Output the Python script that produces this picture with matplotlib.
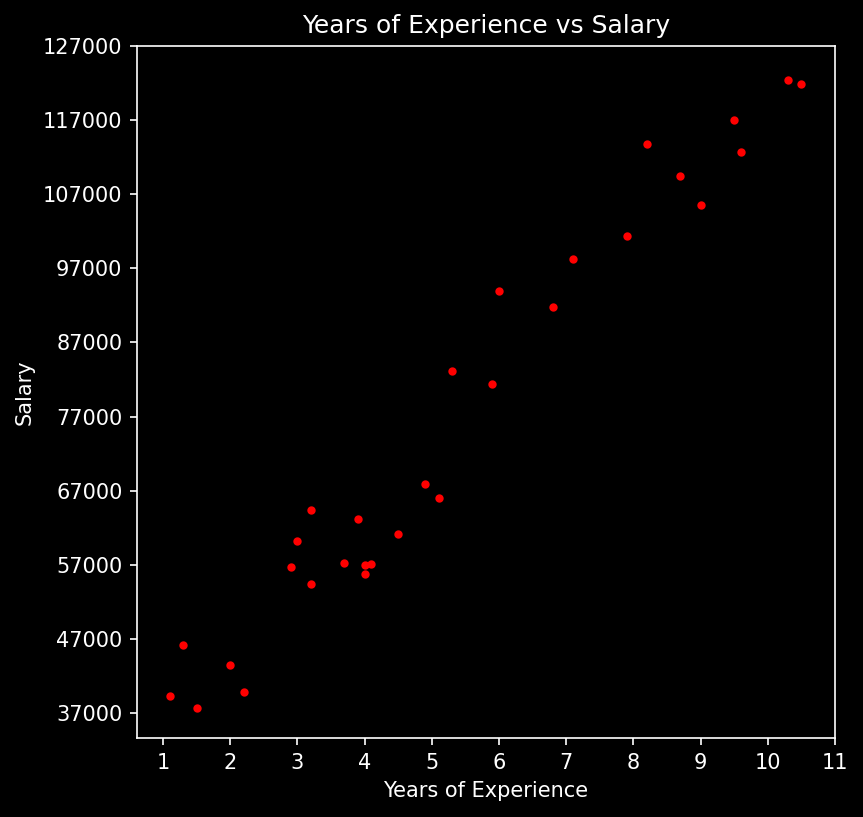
import numpy as np
from matplotlib import pyplot as plt

# data...
years = [1.1, 1.3, 1.5, 2.0, 2.2, 2.9, 3.0, 3.2, 3.2, 3.7,
         3.9, 4.0, 4.0, 4.1, 4.5, 4.9, 5.1, 5.3, 5.9, 6.0,
         6.8, 7.1, 7.9, 8.2, 8.7, 9.0, 9.5, 9.6, 10.3, 10.5]
salary = [39343, 46205, 37731, 43525, 39891, 56642, 60150, 54445, 64445, 57189,
          63218, 55794, 56957, 57081, 61111, 67938, 66029, 83088, 81363, 93940,
          91738, 98273, 101302, 113812, 109431, 105582, 116969, 112635, 122391, 121872]

x_ticks = list(range(1, 12))
y_ticks = list(range(37000, 127001, 10000))

# plotter...
plt.style.use('dark_background')

fig = plt.figure(figsize=(863 / 150, 817 / 150), dpi=150)
ax = fig.add_axes([137 / 863, 1 - 738 / 817, (835 - 137) / 863, (738 - 46) / 817])

ax.scatter(years, salary, color='red', s=9)

ax.set_xticks(x_ticks)
ax.set_yticks(y_ticks)
ax.set_xlim(0.613, 11)
ax.set_ylim(33630, 127000)

ax.set_title("Years of Experience vs Salary")
ax.set_xlabel("Years of Experience")
ax.set_ylabel("Salary")

fig.savefig("out.png", dpi=150)
